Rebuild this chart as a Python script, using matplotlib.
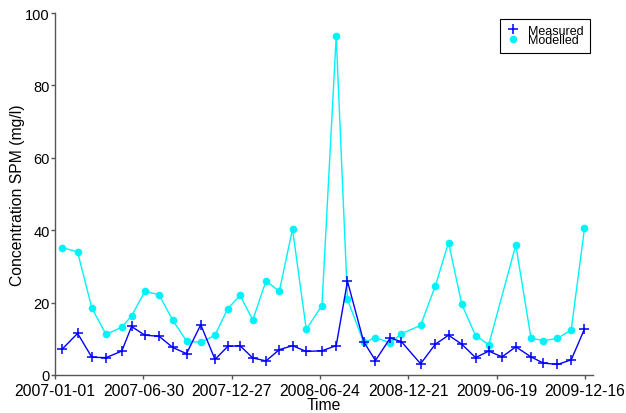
import numpy as np
import pandas as pd
import matplotlib
matplotlib.use("Agg")
import matplotlib.pyplot as plt
import matplotlib.dates as mdates
from matplotlib.lines import Line2D

plt.rcParams["font.family"] = ["Liberation Sans", "DejaVu Sans"]

# sampling dates (roughly monthly)
dates = pd.to_datetime([
    "2007-01-16", "2007-02-16", "2007-03-17", "2007-04-15", "2007-05-17",
    "2007-06-06", "2007-07-03", "2007-08-01", "2007-08-29", "2007-09-26",
    "2007-10-25", "2007-11-23", "2007-12-19", "2008-01-13", "2008-02-08",
    "2008-03-06", "2008-04-02", "2008-04-29", "2008-05-27", "2008-06-28",
    "2008-07-27", "2008-08-19", "2008-09-21", "2008-10-15", "2008-11-14",
    "2008-12-07", "2009-01-15", "2009-02-14", "2009-03-13", "2009-04-09",
    "2009-05-07", "2009-06-03", "2009-06-30", "2009-07-28", "2009-08-28",
    "2009-09-22", "2009-10-21", "2009-11-18", "2009-12-15",
])

measured = [
    7.2, 11.5, 4.9, 4.8, 6.6, 13.4, 11.0, 10.7, 7.6, 5.9,
    13.9, 4.3, 7.9, 8.1, 4.7, 3.9, 7.0, 8.1, 6.5, 6.7,
    8.1, 25.9, 9.2, 4.0, 10.2, 9.2, 3.1, 8.5, 11.0, 8.5,
    4.8, 6.6, 5.0, 7.8, 5.0, 3.3, 2.9, 4.2, 12.7,
]

# no model output for 2009-06-30
modelled = [
    35.2, 34.0, 18.5, 11.2, 13.2, 16.3, 23.1, 22.2, 15.1, 9.4,
    9.0, 11.0, 18.3, 22.0, 15.2, 26.0, 23.1, 40.3, 12.6, 19.2,
    93.6, 20.9, 9.0, 10.3, 8.9, 11.4, 13.7, 24.6, 36.6, 19.5,
    10.9, 8.4, np.nan, 35.9, 10.2, 9.5, 10.1, 12.5, 40.5,
]

tick_dates = pd.date_range("2007-01-01", periods=7, freq="180D")
y_ticks = [0, 20, 40, 60, 80, 100]

meas_color = "#0000FF"
mod_color = "#00F2FA"

meas = pd.Series(measured, index=dates)
mod = pd.Series(modelled, index=dates).dropna()

fig = plt.figure(figsize=(6.26, 4.14), dpi=100)
ax = fig.add_axes([0.0879, 0.0918, 0.947 - 0.0879, 0.966 - 0.0918])

ax.plot(mod.index, mod.values, color=mod_color, lw=1.0, marker="o",
        markersize=5.5, markeredgewidth=0, zorder=2)
ax.plot(meas.index, meas.values, color=meas_color, lw=1.0, marker="+",
        markersize=7, markeredgewidth=1.1, zorder=3)

ax.set_xlim(pd.Timestamp("2007-01-01"), pd.Timestamp("2010-01-01"))
ax.set_ylim(0, 100)
ax.set_xticks(tick_dates)
ax.xaxis.set_major_formatter(mdates.DateFormatter("%Y-%m-%d"))
ax.set_yticks(y_ticks)

for side in ["top", "right"]:
    ax.spines[side].set_visible(False)
for side in ["left", "bottom"]:
    ax.spines[side].set_color("#555555")
    ax.spines[side].set_linewidth(1.0)
ax.tick_params(direction="out", length=2.8, width=1.0, color="#555555")
ax.tick_params(axis="x", labelsize=11.3, pad=3.0)
ax.tick_params(axis="y", labelsize=10.5, pad=1.0)

ax.set_xlabel("Time", fontsize=11.3, labelpad=-1)
ax.set_ylabel("Concentration SPM (mg/l)", fontsize=11.3)
ax.yaxis.set_label_coords(-0.056, 0.5)

handles = [
    Line2D([], [], color=meas_color, marker="+", linestyle="none",
           markersize=7, markeredgewidth=1.1),
    Line2D([], [], color=mod_color, marker="o", linestyle="none",
           markersize=5.5, markeredgewidth=0),
]
leg = ax.legend(handles, ["Measured", "Modelled"], loc="upper right",
                bbox_to_anchor=(0.995, 0.985), fontsize=9, frameon=True,
                fancybox=False, edgecolor="black", framealpha=1,
                labelspacing=-0.2, handlelength=1.2, handletextpad=0.6,
                borderpad=0.5, borderaxespad=0)
leg.get_frame().set_linewidth(0.8)

fig.savefig("out.png", dpi=100)
